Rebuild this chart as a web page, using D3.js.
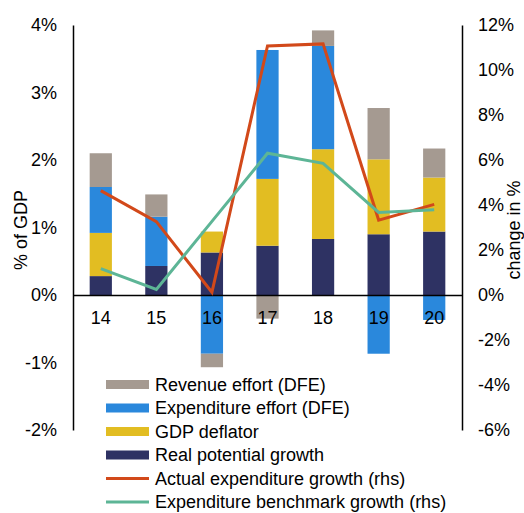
<!DOCTYPE html>
<html>
<head>
<meta charset="utf-8">
<script src="https://cdn.jsdelivr.net/npm/d3@7"></script>
<style>
  body { margin: 0; background: #fff; }
  svg { display: block; font-family: "Liberation Sans", Arial, sans-serif; }
</style>
</head>
<body>
<svg id="chart" width="524" height="513"></svg>
<script>
// years on the x axis
const years = ['14', '15', '16', '17', '18', '19', '20'];

// stacked bars, % of GDP (left axis)
const realGrowth = [0.28, 0.43, 0.63, 0.73, 0.83, 0.90, 0.94];
const gdpDeflator = [0.64, 0.00, 0.31, 0.99, 1.33, 1.11, 0.80];
const expEffort = [0.68, 0.73, -0.87, 1.91, 1.53, -0.87, -0.37];
const revEffort = [0.50, 0.33, -0.20, -0.35, 0.23, 0.76, 0.43];

// lines, change in % (right axis)
const actualGrowth = [4.64, 3.26, 0.12, 11.07, 11.16, 3.33, 4.03];
const benchmarkGrowth = [1.17, 0.25, 3.27, 6.30, 5.85, 3.67, 3.79];

// axis ticks
const leftTicks = [-2, -1, 0, 1, 2, 3, 4];
const rightTicks = [-6, -4, -2, 0, 2, 4, 6, 8, 10, 12];

const colors = {
    real: '#2e3263',
    defl: '#e2bd22',
    exp: '#2a88dc',
    rev: '#a59a91',
    actual: '#d2491a',
    bench: '#5db596'
};

const svg = d3.select('#chart');
const plotLeft = 73, plotRight = 462, plotTop = 25, plotBottom = 430;
const fontSize = 18;

const x = d3.scaleBand()
    .domain(years)
    .range([plotLeft, plotRight])
    .paddingInner(0.6)
    .paddingOuter(0.3);
const yL = d3.scaleLinear().domain([-2, 4]).range([plotBottom, plotTop]);
const yR = d3.scaleLinear().domain([-6, 12]).range([plotBottom, plotTop]);

// build rows for the stack
const keys = ['real', 'defl', 'exp', 'rev'];
const rows = years.map((yr, i) => ({
    year: yr,
    real: realGrowth[i],
    defl: gdpDeflator[i],
    exp: expEffort[i],
    rev: revEffort[i]
}));
const series = d3.stack().keys(keys).offset(d3.stackOffsetDiverging)(rows);

// bars
svg.append('g').selectAll('g')
    .data(series)
    .enter()
    .append('g')
    .attr('fill', d => colors[d.key])
    .selectAll('rect')
    .data(d => d)
    .enter()
    .append('rect')
    .attr('x', d => x(d.data.year))
    .attr('y', d => yL(Math.max(d[0], d[1])))
    .attr('width', x.bandwidth())
    .attr('height', d => Math.abs(yL(d[0]) - yL(d[1])));

// left axis
const leftAxis = svg.append('g')
    .attr('transform', `translate(${plotLeft},0)`)
    .call(d3.axisLeft(yL).tickValues(leftTicks).tickSize(0).tickPadding(16).tickFormat(d => d + '%'));

// right axis
const rightAxis = svg.append('g')
    .attr('transform', `translate(${plotRight},0)`)
    .call(d3.axisRight(yR).tickValues(rightTicks).tickSize(0).tickPadding(16).tickFormat(d => d + '%'));

[leftAxis, rightAxis].forEach(g => {
    g.select('.domain').attr('stroke', '#000').attr('stroke-width', 1.5);
    g.selectAll('text').attr('font-size', fontSize).attr('fill', '#000').attr('font-family', null);
});

// zero line and year labels
const xAxis = svg.append('g')
    .attr('transform', `translate(0,${yL(0)})`)
    .call(d3.axisBottom(x).tickSize(0).tickPadding(16));
xAxis.select('.domain').attr('stroke', '#000').attr('stroke-width', 1.5);
xAxis.selectAll('text').attr('font-size', fontSize).attr('fill', '#000').attr('font-family', null);

// lines
const lineGen = vals => d3.line()
    .x((d, i) => x(years[i]) + x.bandwidth() / 2)
    .y(d => yR(d))(vals);

svg.append('path')
    .attr('d', lineGen(actualGrowth))
    .attr('fill', 'none')
    .attr('stroke', colors.actual)
    .attr('stroke-width', 3);

svg.append('path')
    .attr('d', lineGen(benchmarkGrowth))
    .attr('fill', 'none')
    .attr('stroke', colors.bench)
    .attr('stroke-width', 3);

// axis titles
svg.append('text')
    .attr('transform', 'translate(27,230) rotate(-90)')
    .attr('text-anchor', 'middle')
    .attr('font-size', fontSize)
    .text('% of GDP');

svg.append('text')
    .attr('transform', 'translate(520,230) rotate(-90)')
    .attr('text-anchor', 'middle')
    .attr('font-size', fontSize)
    .text('change in %');

// legend
const legendItems = [
    { label: 'Revenue effort (DFE)', color: colors.rev, type: 'rect' },
    { label: 'Expenditure effort (DFE)', color: colors.exp, type: 'rect' },
    { label: 'GDP deflator', color: colors.defl, type: 'rect' },
    { label: 'Real potential growth', color: colors.real, type: 'rect' },
    { label: 'Actual expenditure growth (rhs)', color: colors.actual, type: 'line' },
    { label: 'Expenditure benchmark growth (rhs)', color: colors.bench, type: 'line' }
];

const legend = svg.append('g').attr('transform', 'translate(106,384.5)');
const item = legend.selectAll('g')
    .data(legendItems)
    .enter()
    .append('g')
    .attr('transform', (d, i) => `translate(0,${i * 23.5})`);

item.filter(d => d.type === 'rect')
    .append('rect')
    .attr('x', 0)
    .attr('y', -4.5)
    .attr('width', 43)
    .attr('height', 9)
    .attr('fill', d => d.color);

item.filter(d => d.type === 'line')
    .append('line')
    .attr('x1', 0)
    .attr('x2', 43)
    .attr('stroke', d => d.color)
    .attr('stroke-width', 3);

item.append('text')
    .attr('x', 49)
    .attr('dy', '0.36em')
    .attr('font-size', fontSize)
    .text(d => d.label);
</script>
</body>
</html>
